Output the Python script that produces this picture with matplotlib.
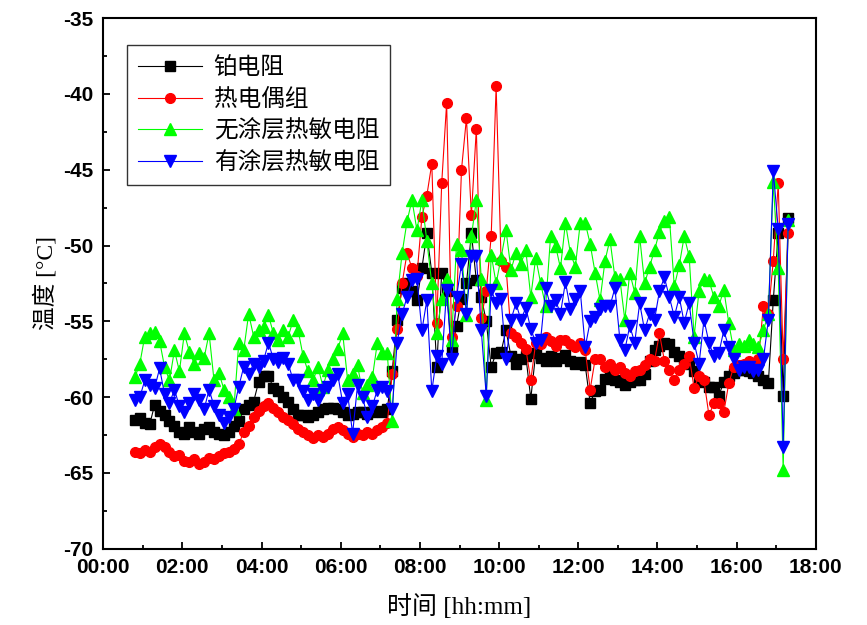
import numpy as np
import matplotlib
matplotlib.use("Agg")
import matplotlib.pyplot as plt
from matplotlib.ticker import MultipleLocator, FuncFormatter

plt.rcParams['font.family'] = ['Noto Sans CJK SC', 'DejaVu Sans']

# time axis in hours (samples every 7.5 min from 00:48)
t = 0.8 + 0.125 * np.arange(133)

pt100 = [  # 铂电阻
    -61.5, -61.4, -61.7, -61.8, -60.5, -60.9, -61.2, -61.6, -61.9, -62.3,
    -62.4, -62.0, -62.3, -62.4, -62.1, -62.0, -62.3, -62.4, -62.5, -62.3,
    -61.9, -61.6, -60.8, -60.5, -60.3, -59.0, -58.6, -58.6, -59.4, -59.6,
    -60.0, -60.3, -60.8, -61.2, -61.2, -61.3, -61.2, -61.0, -60.8, -60.7,
    -60.7, -60.8, -61.0, -61.2, -61.1, -61.0, -61.0, -61.1, -61.0, -60.9,
    -61.0, -60.8, -58.3, -54.9, -52.8, -52.5, -53.0, -53.6, -51.5, -49.2,
    -51.8, -58.0, -51.8, -53.0, -56.9, -55.3, -53.5, -52.5, -49.2, -52.3,
    -53.4, -55.0, -58.0, -57.1, -57.0, -55.6, -57.3, -57.8, -57.5, -57.3,
    -60.1, -57.1, -57.4, -57.6, -57.3, -57.6, -57.4, -57.2, -57.6, -57.8,
    -57.7, -57.9, -60.4, -59.6, -59.5, -58.8, -58.6, -58.9, -59.0, -59.2,
    -59.0, -58.9, -58.9, -58.5, -57.6, -56.9, -56.6, -56.4, -56.5, -57.0,
    -57.3, -57.5, -57.8, -58.3, -58.9, -59.0, -59.3, -59.3, -59.9, -59.0,
    -58.6, -58.4, -58.2, -58.2, -58.3, -58.4, -58.6, -58.9, -59.1, -53.6,
    -49.2, -59.9, -48.2,
]

thermocouple = [  # 热电偶组
    -63.6, -63.7, -63.5, -63.6, -63.3, -63.1, -63.3, -63.6, -63.9, -63.8,
    -64.2, -64.3, -64.1, -64.4, -64.3, -64.0, -64.1, -63.9, -63.7, -63.6,
    -63.4, -63.1, -62.3, -61.9, -61.3, -60.9, -60.6, -60.4, -60.7, -61.0,
    -61.3, -61.5, -61.8, -62.1, -62.3, -62.5, -62.7, -62.5, -62.6, -62.4,
    -62.1, -62.0, -62.2, -62.4, -62.6, -62.4, -62.5, -62.3, -62.4, -62.2,
    -62.0, -61.7, -58.5, -55.5, -52.5, -50.5, -51.5, -52.0, -48.1, -46.7,
    -44.6, -55.1, -45.9, -40.6, -56.0, -54.0, -45.0, -41.6, -48.0, -42.3,
    -54.8, -53.0, -49.4, -39.5, -51.0, -51.4, -55.8, -56.0, -56.4, -56.8,
    -58.9, -56.4, -56.5, -56.0, -56.3, -56.6, -56.2, -56.2, -56.5, -56.7,
    -56.4, -56.9, -59.5, -57.5, -57.5, -58.0, -57.8, -58.2, -58.0, -58.4,
    -58.6, -58.3, -58.2, -57.9, -57.5, -57.6, -55.8, -57.6, -58.2, -58.9,
    -58.2, -57.8, -57.3, -59.4, -58.6, -58.9, -61.2, -60.4, -60.4, -61.0,
    -59.1, -58.0, -57.9, -57.8, -57.6, -57.8, -57.5, -54.0, -54.5, -51.0,
    -45.9, -57.5, -49.2,
]

bare_thermistor = [  # 无涂层热敏电阻
    -58.7, -57.8, -56.0, -55.8, -55.7, -56.3, -58.0, -58.9, -56.9, -58.3,
    -55.8, -57.0, -57.8, -57.1, -57.4, -55.8, -58.9, -58.4, -59.5, -60.0,
    -60.8, -56.4, -56.9, -54.5, -56.0, -55.6, -55.4, -54.6, -55.8, -56.2,
    -55.6, -56.0, -54.9, -55.6, -57.3, -58.3, -58.9, -58.0, -59.3, -58.2,
    -57.5, -56.8, -55.8, -58.9, -58.5, -57.9, -59.7, -59.2, -58.7, -56.4,
    -57.1, -57.1, -61.6, -53.5, -50.5, -48.4, -47.0, -49.0, -47.0, -49.7,
    -52.5, -55.8, -53.5, -52.2, -56.2, -49.9, -50.3, -54.6, -49.4, -47.0,
    -52.2, -60.2, -50.6, -52.5, -50.8, -49.0, -51.6, -50.5, -51.2, -50.3,
    -53.4, -50.8, -52.5, -54.0, -49.4, -50.0, -51.5, -48.5, -50.5, -51.4,
    -48.5, -48.5, -49.9, -51.8, -53.6, -51.0, -49.6, -52.1, -52.2, -54.9,
    -51.8, -53.1, -49.4, -52.5, -51.4, -50.3, -49.1, -48.4, -48.1, -52.7,
    -51.3, -49.4, -50.7, -56.0, -53.0, -52.2, -52.3, -53.4, -54.0, -52.9,
    -55.1, -56.9, -56.5, -56.6, -56.2, -56.5, -56.7, -55.6, -54.5, -45.8,
    -51.5, -64.8, -48.3,
]

coated_thermistor = [  # 有涂层热敏电阻
    -60.2, -60.0, -58.9, -59.2, -59.4, -58.1, -59.8, -60.4, -59.5, -60.6,
    -61.0, -60.4, -59.8, -60.2, -60.8, -59.5, -60.6, -61.2, -61.7, -61.3,
    -60.8, -59.3, -58.0, -58.5, -57.8, -58.0, -57.6, -56.4, -57.5, -57.7,
    -57.4, -57.8, -58.9, -58.9, -59.6, -60.2, -59.8, -60.2, -59.5, -59.3,
    -58.9, -58.5, -60.4, -59.8, -62.4, -59.2, -60.0, -61.3, -60.6, -59.5,
    -59.3, -59.6, -60.8, -56.4, -54.5, -53.4, -52.3, -52.2, -55.6, -53.6,
    -59.6, -57.3, -57.8, -52.9, -57.5, -53.4, -51.2, -54.5, -50.7, -50.7,
    -55.6, -59.9, -52.9, -53.8, -53.5, -57.5, -54.9, -53.8, -54.9, -54.1,
    -55.5, -56.4, -56.2, -52.8, -54.0, -53.6, -54.5, -52.4, -54.2, -53.5,
    -53.0, -56.7, -55.0, -54.7, -54.2, -54.0, -54.0, -52.8, -56.2, -56.9,
    -55.3, -56.4, -53.8, -55.6, -54.5, -54.9, -53.0, -52.1, -53.4, -54.7,
    -53.4, -55.1, -53.8, -56.4, -57.8, -54.9, -56.4, -57.3, -57.1, -55.6,
    -56.7, -57.5, -58.2, -58.0, -58.0, -58.3, -58.2, -57.5, -54.9, -45.1,
    -48.9, -63.3, -48.6,
]

labels = ['铂电阻', '热电偶组', '无涂层热敏电阻', '有涂层热敏电阻']

fig = plt.figure(figsize=(8.67, 6.25), dpi=100)
ax = fig.add_axes([0.119, 0.122, 0.822, 0.849])

ax.plot(t, pt100, color='black', marker='s', ms=6.5, lw=0.8, label=labels[0])
ax.plot(t, thermocouple, color='red', marker='o', ms=7, lw=0.8, label=labels[1])
ax.plot(t, bare_thermistor, color='#00ff00', marker='^', ms=8, lw=0.8, label=labels[2])
ax.plot(t, coated_thermistor, color='blue', marker='v', ms=8, lw=0.8, label=labels[3])

ax.set_xlim(0, 18)
ax.set_ylim(-70, -35)
ax.xaxis.set_major_locator(MultipleLocator(2))
ax.xaxis.set_minor_locator(MultipleLocator(1))
ax.yaxis.set_major_locator(MultipleLocator(5))
ax.yaxis.set_minor_locator(MultipleLocator(2.5))
ax.xaxis.set_major_formatter(FuncFormatter(lambda v, p: f"{int(round(v)):02d}:00"))
ax.yaxis.set_major_formatter(FuncFormatter(lambda v, p: f"{int(v)}"))

ax.tick_params(which='both', direction='in', top=False, right=False, width=1.3)
ax.tick_params(which='major', length=5, pad=7)
ax.tick_params(which='minor', length=3)
for lab in ax.get_xticklabels() + ax.get_yticklabels():
    lab.set_family('Liberation Sans')
    lab.set_fontweight('bold')
    lab.set_fontsize(15)
for sp in ax.spines.values():
    sp.set_linewidth(1.5)

ax.set_xlabel('时间 [hh:mm]', family=['Liberation Serif', 'Noto Sans CJK SC'], fontsize=18, labelpad=12)
ax.set_ylabel('温度 [°C]', family=['Liberation Serif', 'Noto Sans CJK SC'], fontsize=17, labelpad=4)

leg = ax.legend(loc='upper left', bbox_to_anchor=(0.034, 0.949), borderaxespad=0,
                numpoints=1, fancybox=False, edgecolor='black', fontsize=17,
                handlelength=2.7, labelspacing=0.38, borderpad=0.45, handletextpad=0.5)
leg.get_frame().set_linewidth(1.0)

fig.savefig('out.png', dpi=100)
